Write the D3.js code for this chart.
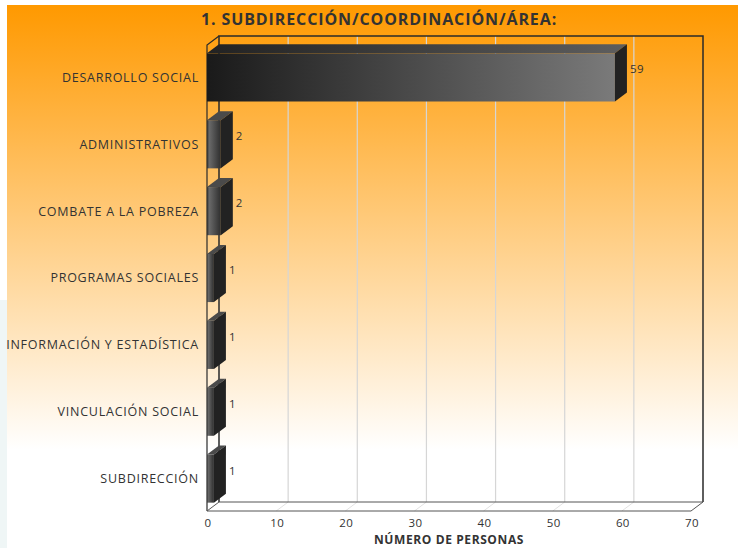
<!DOCTYPE html>
<html>
<head>
<meta charset="utf-8">
<script src="https://cdn.jsdelivr.net/npm/d3@7"></script>
<style>
  body { margin: 0; background: #fff; }
  text { font-family: "Open Sans", sans-serif; }
</style>
</head>
<body>
<script>
// data
var categories = ["DESARROLLO SOCIAL", "ADMINISTRATIVOS", "COMBATE A LA POBREZA",
    "PROGRAMAS SOCIALES", "INFORMACIÓN Y ESTADÍSTICA", "VINCULACIÓN SOCIAL", "SUBDIRECCIÓN"];
var values = [59, 2, 2, 1, 1, 1, 1];
var xTicks = [0, 10, 20, 30, 40, 50, 60, 70];

var width = 738, height = 548;
var pLeft = 207, pRight = 691, pTop = 45, pBottom = 511;
var dx = 12, dy = 9;   // 3d depth

var svg = d3.select("body").append("svg")
    .attr("width", width)
    .attr("height", height);

var defs = svg.append("defs");
var bg = defs.append("linearGradient").attr("id", "bg")
    .attr("x1", 0).attr("y1", 0).attr("x2", 0).attr("y2", 1);
bg.append("stop").attr("offset", "0%").attr("stop-color", "#ff9900");
bg.append("stop").attr("offset", "100%").attr("stop-color", "#ffffff");

var gBig = defs.append("linearGradient").attr("id", "frontBig");
gBig.append("stop").attr("offset", "0%").attr("stop-color", "#1a1a1a");
gBig.append("stop").attr("offset", "100%").attr("stop-color", "#7a7a7a");
var gTop = defs.append("linearGradient").attr("id", "topBig");
gTop.append("stop").attr("offset", "0%").attr("stop-color", "#222");
gTop.append("stop").attr("offset", "100%").attr("stop-color", "#5e5e5e");
var gSmall = defs.append("linearGradient").attr("id", "frontSmall");
gSmall.append("stop").attr("offset", "0%").attr("stop-color", "#2a2a2a");
gSmall.append("stop").attr("offset", "15%").attr("stop-color", "#6a6a6a");
gSmall.append("stop").attr("offset", "100%").attr("stop-color", "#2e2e2e");

// background
svg.append("rect").attr("x", 7).attr("y", 5).attr("width", width - 7).attr("height", 445)
    .attr("fill", "url(#bg)");
svg.append("rect").attr("x", 0).attr("y", 300).attr("width", 7).attr("height", 248)
    .attr("fill", "#eff6f6");

var x = d3.scaleLinear().domain([0, 70]).range([pLeft, pRight]);
var y = d3.scaleBand().domain(categories).range([pTop, pBottom]).paddingInner(0.28).paddingOuter(0.125);

// title
svg.append("text")
    .attr("x", 379).attr("y", 25)
    .attr("text-anchor", "middle")
    .attr("font-size", 16).attr("font-weight", "bold")
    .attr("letter-spacing", 0.9)
    .attr("fill", "#333")
    .text("1. SUBDIRECCIÓN/COORDINACIÓN/ÁREA:");

// back wall grid
var grid = svg.append("g");
grid.selectAll("line.v")
    .data(xTicks.slice(1, -1))
    .enter().append("line")
    .attr("x1", d => x(d) + dx).attr("x2", d => x(d) + dx)
    .attr("y1", pTop - dy).attr("y2", pBottom - dy)
    .attr("stroke", "#d6d6d6").attr("stroke-width", 1.2);
grid.selectAll("line.f")
    .data(xTicks.slice(1, -1))
    .enter().append("line")
    .attr("x1", d => x(d)).attr("x2", d => x(d) + dx)
    .attr("y1", pBottom).attr("y2", pBottom - dy)
    .attr("stroke", "#e2e2e2");

// frame
var frame = svg.append("g").attr("fill", "none").attr("stroke", "#2a2a2a");
frame.append("path")
    .attr("d", `M${pLeft + dx},${pBottom - dy}V${pTop - dy}H${pRight + dx}V${pBottom - dy}`)
    .attr("stroke-width", 1.5);
frame.append("path")
    .attr("d", `M${pLeft},${pBottom}V${pTop}L${pLeft + dx},${pTop - dy}`)
    .attr("stroke-width", 1.2);
frame.append("path")
    .attr("d", `M${pLeft},${pBottom}H${pRight}L${pRight + dx},${pBottom - dy}H${pLeft + dx}Z`)
    .attr("stroke", "#555").attr("stroke-width", 1);

// bars
var bars = svg.append("g").selectAll("g")
    .data(categories.map((c, i) => ({ name: c, value: values[i] })))
    .enter().append("g");

var bh = y.bandwidth();
bars.append("rect")
    .attr("x", pLeft)
    .attr("y", d => y(d.name))
    .attr("width", d => x(d.value) - pLeft)
    .attr("height", bh)
    .attr("fill", d => x(d.value) - pLeft > 40 ? "url(#frontBig)" : "url(#frontSmall)");
bars.append("path")
    .attr("d", d => {
        var yt = y(d.name), xe = x(d.value);
        return `M${pLeft},${yt}H${xe}L${xe + dx},${yt - dy}H${pLeft + dx}Z`;
    })
    .attr("fill", d => x(d.value) - pLeft > 40 ? "url(#topBig)" : "#4a4a4a");
bars.append("path")
    .attr("d", d => {
        var yt = y(d.name), xe = x(d.value);
        return `M${xe},${yt}L${xe + dx},${yt - dy}V${yt - dy + bh}L${xe},${yt + bh}Z`;
    })
    .attr("fill", "#222");

bars.append("text")
    .attr("x", d => x(d.value) + dx + 3)
    .attr("y", d => y(d.name) + 20)
    .attr("font-size", 11.5)
    .attr("letter-spacing", 0.4)
    .attr("fill", "#333")
    .text(d => d.value);

// category labels
svg.append("g").selectAll("text")
    .data(categories)
    .enter().append("text")
    .attr("x", 199)
    .attr("y", d => y(d) + bh / 2)
    .attr("dy", "0.35em")
    .attr("text-anchor", "end")
    .attr("font-size", 12.5)
    .attr("letter-spacing", 0.75)
    .attr("fill", "#333")
    .text(d => d);

// x ticks
svg.append("g").selectAll("text")
    .data(xTicks)
    .enter().append("text")
    .attr("x", d => x(d) + 1)
    .attr("y", 527)
    .attr("text-anchor", "middle")
    .attr("font-size", 11.5)
    .attr("letter-spacing", 0.4)
    .attr("fill", "#333")
    .text(d => d);

svg.append("text")
    .attr("x", (pLeft + pRight) / 2)
    .attr("y", 544)
    .attr("text-anchor", "middle")
    .attr("font-size", 12).attr("font-weight", "bold")
    .attr("letter-spacing", 0.6)
    .attr("fill", "#333")
    .text("NÚMERO DE PERSONAS");
</script>
</body>
</html>
